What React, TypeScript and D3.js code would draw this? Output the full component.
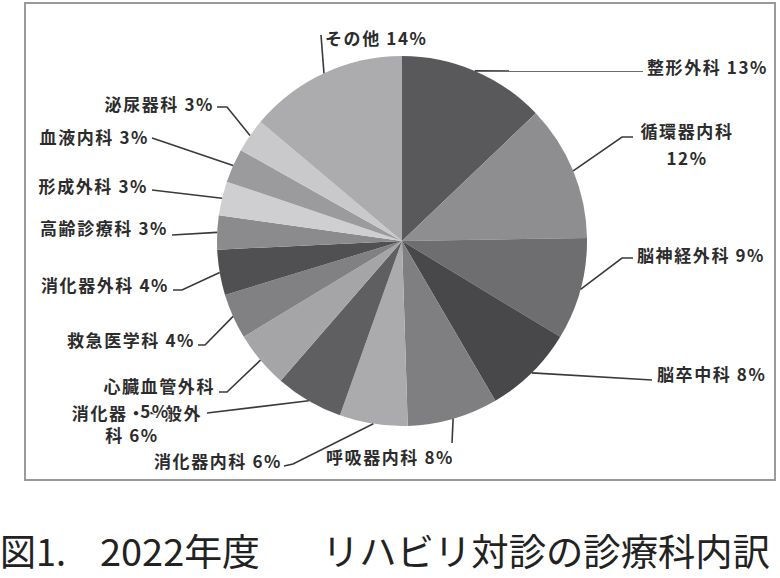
import React from "react";
import * as d3 from "d3";

// 診療科ごとの割合（%）
const departments = [
  "整形外科",
  "循環器内科",
  "脳神経外科",
  "脳卒中科",
  "呼吸器内科",
  "消化器内科",
  "消化器・一般外科",
  "心臓血管外科",
  "救急医学科",
  "消化器外科",
  "高齢診療科",
  "形成外科",
  "血液内科",
  "泌尿器科",
  "その他",
];
const shares = [13, 12, 9, 8, 8, 6, 6, 5, 4, 4, 3, 3, 3, 3, 14];
const grays = [
  "#59595b",
  "#8e8e90",
  "#6e6e70",
  "#48484a",
  "#7f7f81",
  "#ababad",
  "#5f5f61",
  "#a5a5a7",
  "#818183",
  "#505052",
  "#8b8b8d",
  "#cfcfd1",
  "#9b9b9d",
  "#c9c9cb",
  "#acacae",
];

const captionParts = ["図1.", "2022年度", "リハビリ対診の診療科内訳"];

// ラベルの配置（引き出し線の折れ点とテキスト位置）
type Layout = {
  x: number;
  y: number;
  anchor: "start" | "middle" | "end";
  wrap?: number;
  x2?: number;
  y2?: number;
  anchor2?: "start" | "middle" | "end";
  pts: [number, number][];
};

const layouts: Layout[] = [
  { x: 647, y: 66, anchor: "start", pts: [[643, 71]] },
  { x: 687, y: 130, anchor: "middle", wrap: 5, x2: 687, y2: 157, anchor2: "middle", pts: [[622, 137], [633, 137]] },
  { x: 637, y: 254, anchor: "start", pts: [[622, 258], [633, 258]] },
  { x: 657, y: 373, anchor: "start", pts: [[652, 380]] },
  { x: 390, y: 456, anchor: "middle", pts: [[452, 443]] },
  { x: 282, y: 460, anchor: "end", pts: [[293, 464], [284, 466]] },
  { x: 202, y: 412, anchor: "end", wrap: 7, x2: 132, y2: 434, anchor2: "middle", pts: [[207, 413]] },
  { x: 215, y: 385, anchor: "end", wrap: 6, x2: 155, y2: 410, anchor2: "middle", pts: [[227, 392], [219, 392]] },
  { x: 195, y: 339, anchor: "end", pts: [[205, 345], [198, 345]] },
  { x: 169, y: 284, anchor: "end", pts: [[182, 290], [173, 290]] },
  { x: 168, y: 227, anchor: "end", pts: [[172, 235]] },
  { x: 148, y: 185, anchor: "end", pts: [[152, 190]] },
  { x: 149, y: 136, anchor: "end", pts: [[158, 140], [152, 138]] },
  { x: 214, y: 103, anchor: "end", pts: [[227, 107], [217, 107]] },
  { x: 325, y: 37, anchor: "start", pts: [[321, 35]] },
];

const W = 780;
const H = 578;
const cx = 402;
const cy = 241;
const R = 185;

const labelFont = "'Noto Sans CJK JP', 'Noto Sans', sans-serif";

export default function App() {
  const items = departments.map((d, i) => ({ name: d, value: shares[i], i }));
  const pie = d3
    .pie<{ name: string; value: number; i: number }>()
    .value((d) => d.value)
    .sort(null);
  const arcs = pie(items);
  const arc = d3
    .arc<d3.PieArcDatum<{ name: string; value: number; i: number }>>()
    .innerRadius(0)
    .outerRadius(R);
  const edge = d3
    .arc<d3.PieArcDatum<{ name: string; value: number; i: number }>>()
    .innerRadius(R)
    .outerRadius(R);
  const line = d3.line();

  return (
    <svg
      width={W}
      height={H}
      style={{ position: "absolute", left: 0, top: 0, background: "#fff" }}
    >
      <rect x={25} y={3} width={750} height={477} fill="#fff" stroke="#9a9a9a" strokeWidth={2} />

      <g transform={`translate(${cx},${cy})`}>
        {arcs.map((a) => (
          <path key={a.data.name} d={arc(a) || ""} fill={grays[a.data.i]} />
        ))}
      </g>

      {arcs.map((a) => {
        const lay = layouts[a.data.i];
        const [sx, sy] = edge.centroid(a);
        const pts: [number, number][] = [[cx + sx, cy + sy], ...lay.pts];
        const pct = `${a.data.value}%`;
        let line1 = `${a.data.name} ${pct}`;
        let line2: string | null = null;
        if (lay.wrap !== undefined) {
          line1 = a.data.name.slice(0, lay.wrap);
          const rest = a.data.name.slice(lay.wrap);
          line2 = rest ? `${rest} ${pct}` : pct;
        }
        return (
          <g key={`lab-${a.data.name}`}>
            <path d={line(pts) || ""} fill="none" stroke="#3a3a3a" strokeWidth={1.6} />
            <text
              x={lay.x}
              y={lay.y}
              textAnchor={lay.anchor}
              dominantBaseline="central"
              fontFamily={labelFont}
              fontWeight={700}
              fontSize={17}
              letterSpacing={1.6}
              fill="#2c2c2c"
            >
              {line1}
            </text>
            {line2 && (
              <text
                x={lay.x2}
                y={lay.y2}
                textAnchor={lay.anchor2}
                dominantBaseline="central"
                fontFamily={labelFont}
                fontWeight={700}
                fontSize={17}
                letterSpacing={1.6}
                fill="#2c2c2c"
                stroke="#fff"
                strokeWidth={2}
                paintOrder="stroke"
              >
                {line2}
              </text>
            )}
          </g>
        );
      })}

      <g fontFamily="'Noto Sans CJK JP', sans-serif" fontSize={37} fill="#222">
        <text x={0} y={566} textLength={66} lengthAdjust="spacingAndGlyphs">{captionParts[0]}</text>
        <text x={100} y={566} textLength={160} lengthAdjust="spacingAndGlyphs">{captionParts[1]}</text>
        <text x={322} y={566} textLength={448} lengthAdjust="spacingAndGlyphs">{captionParts[2]}</text>
      </g>
    </svg>
  );
}
